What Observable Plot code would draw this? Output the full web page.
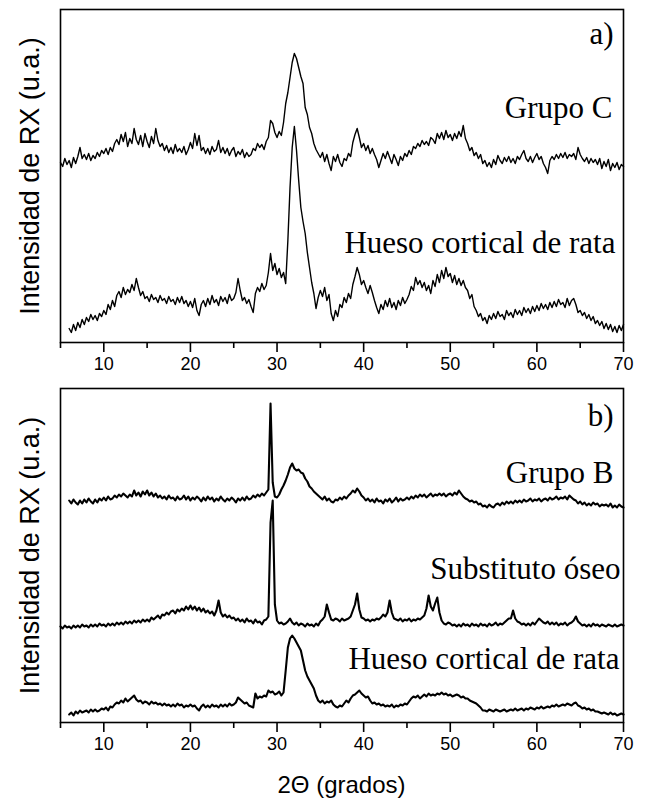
<!DOCTYPE html>
<html><head><meta charset="utf-8">
<script src="https://cdn.jsdelivr.net/npm/d3@7"></script>
<script src="https://cdn.jsdelivr.net/npm/@observablehq/plot@0.6"></script>
<style>
body{margin:0;background:#fff;width:648px;}
#xtitle{font-family:"Liberation Sans",Arial,sans-serif;font-size:24px;text-align:center;padding-left:60px;padding-right:25px;height:38px;line-height:50px;color:#000;}
</style></head><body>
<div id="a"></div><div id="b"></div><div id="xtitle">2Θ (grados)</div>
<script>
const step = 0.25;
const majorTicks = [10, 20, 30, 40, 50, 60, 70];
const minorTicks = [5, 15, 25, 35, 45, 55, 65];

// Panel a
const grupoCStart = 5;
const grupoC = [
180,176,184,178, 182,175,185,179, 186,195,184,188, 183,189,182,187, 184,190,186,192,
189,194,188,195, 191,199,203,198, 208,201,210,196, 204,199,214,203, 198,207,196,209,
201,195,206,199, 214,202,196,199, 192,197,190,195, 189,198,191,194, 190,196,188,193,
200,194,209,197, 207,192,195,189, 194,188,196,191, 193,202,190,195, 189,194,187,192,
195,186,191,188, 193,185,190,186, 188,194,192,199, 195,198,193,201, 205,222,219,210,
205,211,207,220, 239,250,265,280, 289,284,275,266, 259,235,228,215, 209,199,193,189,
185,190,181,188, 179,172,186,181, 188,180,176,184, 182,189,186,200, 208,214,205,195,
199,192,197,189, 194,188,183,175, 182,189,184,191, 185,179,188,183, 177,186,182,189,
186,192,188,196, 194,199,196,202, 198,201,197,205, 203,199,209,204, 210,203,212,205,
208,202,209,204, 211,206,217,204, 199,192,195,187, 190,184,188,179, 182,176,180,175,
183,178,187,182, 179,185,181,186, 180,184,179,186, 183,188,192,184, 181,186,180,185,
189,183,186,179, 175,169,182,186, 183,188,184,189, 185,190,184,188, 186,189,183,195,
188,184,181,185, 179,184,180,183, 178,184,174,181, 176,183,172,179, 175,180,173,178,
176];
const huesoAStart = 6;
const huesoA = [
14,10,18,12, 20,15,23,18, 25,21,28,23, 27,22,29,26, 32,28,38,33,
42,36,47,51, 45,55,48,53, 50,58,52,64, 55,47,51,44, 46,41,48,43,
45,40,47,42, 44,39,46,41, 43,38,45,40, 46,39,42,36, 41,35,44,32,
27,38,42,36, 44,38,47,40, 43,37,46,41, 45,39,48,42, 44,50,64,52,
42,45,39,43, 36,30,49,55, 51,59,53,57, 70,89,72,79, 68,74,65,70,
59,102,155,195, 216,192,162,135, 121,109,90,75, 60,49,34,45, 52,46,55,42,
48,29,22,32, 26,38,35,45, 40,49,44,58, 66,75,68,58, 62,55,49,57,
50,42,35,29, 38,33,42,36, 44,35,40,33, 42,37,45,39, 43,48,56,52,
65,58,62,55, 60,52,57,49, 62,56,68,60, 72,64,75,66, 69,60,67,58,
64,57,62,55, 52,44,48,36, 32,26,29,22, 25,19,27,23, 29,24,31,26,
28,23,32,27, 30,25,33,28, 32,27,35,30, 34,29,36,31, 37,32,39,34,
38,33,40,35, 41,36,43,38, 40,35,44,37, 42,44,38,30, 32,27,30,24,
28,22,26,19, 22,17,21,14, 19,13,18,11, 16,10,17,12,
18];

// Panel b
const grupoBStart = 6;
const grupoB = [
222,219,223,220, 218,222,219,223, 220,224,221,219, 223,220,224,222, 225,222,226,223,
224,227,225,228, 226,229,227,225, 228,226,232,227, 230,226,231,228, 232,227,230,226,
229,225,227,224, 226,223,227,224, 225,222,226,223, 224,227,223,226, 222,225,223,226,
224,221,225,222, 226,223,225,221, 224,222,226,223, 221,224,222,225, 223,220,224,222,
225,222,226,223, 224,227,225,228, 226,229,227,230, 233,319,240,226, 225,228,233,237,
242,248,255,259, 254,252,253,250, 249,244,241,236, 234,231,229,227, 225,223,226,222,
224,221,220,223, 222,225,223,226, 224,227,229,232, 230,234,231,227, 225,222,224,221,
223,220,224,221, 222,219,223,221, 224,220,222,225, 221,224,222,223, 225,223,226,224,
227,225,228,226, 228,225,227,229, 226,228,227,229, 227,229,226,228, 229,227,230,228,
232,229,226,224, 223,221,222,220, 221,218,219,216, 217,215,218,216, 215,218,219,217,
220,218,221,219, 221,219,222,220, 222,220,223,221, 222,224,221,223, 222,224,221,223,
224,222,225,223, 224,226,223,225, 224,226,223,227, 225,223,222,219, 221,218,220,217,
219,217,220,218, 219,216,218,217, 218,216,219,215, 217,215,218,216,
215];
const substitutoStart = 5;
const substituto = [
96,94,97,95, 96,94,97,95, 97,95,98,96, 97,95,98,96, 98,96,99,97,
98,96,99,97, 99,97,100,98, 100,98,101,99, 101,99,102,100, 102,100,103,101,
103,101,105,103, 105,107,104,108, 107,110,108,111, 112,109,113,111, 114,112,116,113,
117,113,116,112, 115,111,114,110, 112,109,111,107, 112,122,110,106, 108,105,107,104,
105,102,104,101, 103,100,104,101, 102,99,103,100, 101,98,102,103, 106,200,222,118,
102,99,100,98, 99,101,104,100, 98,100,97,99, 98,96,99,97, 98,96,99,97,
101,103,106,118, 110,103,102,104, 103,101,104,102, 103,104,106,112, 118,129,113,105,
104,102,103,101, 103,102,104,103, 105,108,106,110, 122,110,104,103, 102,104,101,103,
102,104,101,103, 102,104,103,105, 107,114,127,116, 112,119,125,110, 102,99,98,100,
99,97,98,96, 98,96,99,97, 98,96,99,97, 98,96,99,97, 98,96,99,97,
98,100,97,99, 98,100,102,104, 104,112,104,101, 100,98,99,97, 99,97,100,98,
101,104,102,100, 99,101,98,100, 98,100,97,99, 98,100,97,99, 100,102,106,101,
99,97,98,96, 98,96,99,97, 98,96,98,97, 96,98,97,96, 98,96,97,98,
97];
const huesoBStart = 6;
const huesoB = [
8,10,7,11, 9,12,10,11, 12,10,13,11, 13,11,12,14, 13,15,12,16,
15,18,20,19, 22,20,24,21, 23,25,27,23, 21,22,19,21, 20,18,21,19,
20,18,19,17, 19,17,18,16, 18,16,19,17, 18,15,17,16, 18,16,17,14,
12,16,18,15, 17,15,18,16, 17,15,18,16, 18,16,19,17, 18,20,25,23,
21,19,20,17, 16,15,29,24, 26,25,27,26, 32,30,31,28, 29,31,27,30,
52,75,84,87, 84,80,76,72, 62,52,46,42, 38,34,27,22, 20,22,19,21,
20,22,18,16, 15,17,16,19, 22,20,24,27, 28,30,32,29, 27,25,26,22,
19,20,18,19, 17,18,16,17, 16,18,15,17, 16,18,17,19, 18,21,24,26,
25,27,24,26, 28,26,29,27, 28,27,29,28, 30,28,29,27, 28,26,27,28,
27,25,26,24, 24,22,21,20, 19,17,15,12, 12,11,13,12, 11,13,12,11,
12,13,11,12, 13,12,14,12, 13,14,12,14, 13,15,14,13, 15,14,16,14,
15,16,15,17, 16,18,16,17, 18,17,19,18, 17,19,20,17, 16,14,15,13,
14,12,13,11, 11,10,9,10, 9,8,10,8, 9,7,8,9,
8];

const labelsA = [
  {text: "a)", y: 299, dx: -10},
  {text: "Grupo C", y: 225, dx: -11},
  {text: "Hueso cortical de rata", y: 90, dx: -8}
];
const labelsB = [
  {text: "b)", y: 297, dx: -10},
  {text: "Grupo B", y: 240, dx: -10},
  {text: "Substituto óseo", y: 144, dx: -3},
  {text: "Hueso cortical de rata", y: 54, dx: -4}
];

function series(name, start, values) {
  return values.map((v, i) => ({series: name, angle: start + i * step, value: v}));
}
const dataA = [...series("Grupo C", grupoCStart, grupoC), ...series("Hueso A", huesoAStart, huesoA)];
const dataB = [...series("Grupo B", grupoBStart, grupoB), ...series("Substituto", substitutoStart, substituto), ...series("Hueso B", huesoBStart, huesoB)];

const sans = "'Liberation Sans', Arial, sans-serif";
const serif = "'Liberation Serif', 'Times New Roman', serif";

function panel(data, labels, yMax, lineWidth, marginTop) {
  return Plot.plot({
    width: 648, height: 380,
    marginLeft: 60, marginRight: 25, marginTop, marginBottom: 38,
    x: {domain: [5, 70]},
    y: {domain: [0, yMax], axis: null},
    style: {fontFamily: sans, fontSize: "18px", background: "white", color: "black", overflow: "visible"},
    marks: [
      Plot.line(data, {x: "angle", y: "value", z: "series", stroke: "black", strokeWidth: lineWidth}),
      Plot.frame({stroke: "black", strokeWidth: 1.6}),
      Plot.axisX({ticks: majorTicks, tickSize: 10, tickPadding: 5, fontSize: 18, fontFamily: sans, strokeWidth: 1.6, label: null, tickFormat: d => String(d)}),
      Plot.axisX({ticks: minorTicks, tickSize: 6, strokeWidth: 1.6, label: null, tickFormat: () => ""}),
      Plot.text(["Intensidad de RX (u.a.)"], {frameAnchor: "left", dx: -30, rotate: -90, textAnchor: "middle", lineAnchor: "middle", fontSize: 27, fontFamily: sans, fill: "black"}),
      ...labels.map(l => Plot.text([l.text], {frameAnchor: "right", y: [l.y], dx: l.dx, textAnchor: "end", lineAnchor: "bottom", fontSize: 31, fontFamily: serif, fill: "black"}))
    ]
  });
}

document.getElementById("a").append(panel(dataA, labelsA, 333, 1.4, 9));
document.getElementById("b").append(panel(dataB, labelsB, 334, 2.1, 8));
</script>
</body></html>
